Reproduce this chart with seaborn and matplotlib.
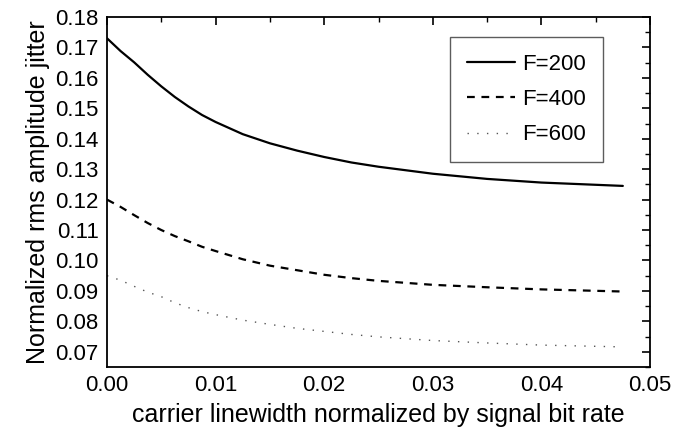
import numpy as np
import pandas as pd
import matplotlib
matplotlib.use("Agg")
import matplotlib.pyplot as plt
from matplotlib.ticker import MultipleLocator, FormatStrFormatter
import seaborn as sns

# Data
x_vals = [0.0, 0.00125, 0.0025, 0.00375, 0.005, 0.00625, 0.0075, 0.00875, 0.01,
          0.0125, 0.015, 0.0175, 0.02, 0.0225, 0.025, 0.03, 0.035, 0.04, 0.0475]
f200 = [0.1730, 0.1688, 0.1651, 0.1610, 0.1572, 0.1537, 0.1506, 0.1478, 0.1455,
        0.1415, 0.1385, 0.1361, 0.1340, 0.1322, 0.1308, 0.1285, 0.1268, 0.1256, 0.1245]
f400 = [0.1200, 0.1176, 0.1149, 0.1123, 0.1100, 0.1080, 0.1063, 0.1045, 0.1031,
        0.1004, 0.0983, 0.0968, 0.0953, 0.0942, 0.0933, 0.0920, 0.0912, 0.0905, 0.0898]
f600 = [0.0950, 0.0935, 0.0915, 0.0896, 0.0881, 0.0861, 0.0845, 0.0832, 0.0822,
        0.0804, 0.0790, 0.0777, 0.0767, 0.0757, 0.0749, 0.0737, 0.0729, 0.0722, 0.0716]
labels = ["F=200", "F=400", "F=600"]
xlabel = "carrier linewidth normalized by signal bit rate"
ylabel = "Normalized rms amplitude jitter"

sns.set_style("white")
plt.rcParams["font.family"] = ["Liberation Sans", "DejaVu Sans"]
plt.rcParams.update({"text.color": "black", "axes.labelcolor": "black",
                     "xtick.color": "black", "ytick.color": "black"})

fig = plt.figure(figsize=(6.86, 4.30), dpi=100)
ax = fig.add_axes([0.156, 0.1465, 0.7915, 0.814])

styles = [dict(color="black", lw=1.6, linestyle="-"),
          dict(color="black", lw=1.6, linestyle=(0, (3.5, 3.0))),
          dict(color="#555555", lw=1.0, linestyle=(0, (1, 6)))]
for ys, lab, st in zip([f200, f400, f600], labels, styles):
    df = pd.DataFrame({"x": x_vals, "y": ys})
    sns.lineplot(data=df, x="x", y="y", ax=ax, label=lab, **st)

ax.set_xlim(0, 0.05)
ax.set_ylim(0.065, 0.18)
ax.xaxis.set_major_locator(MultipleLocator(0.01))
ax.xaxis.set_minor_locator(MultipleLocator(0.005))
ax.yaxis.set_major_locator(MultipleLocator(0.01))
ax.yaxis.set_minor_locator(MultipleLocator(0.005))
ax.xaxis.set_major_formatter(FormatStrFormatter("%.2f"))
ax.yaxis.set_major_formatter(FormatStrFormatter("%.2f"))
ax.tick_params(which="both", direction="in", top=True, right=True, color="black",
               labelcolor="black")
ax.tick_params(which="major", length=6, width=1.2, labelsize=16, pad=6)
ax.tick_params(which="minor", length=3.5, width=1.0)
for sp in ax.spines.values():
    sp.set_color("black")
    sp.set_linewidth(1.3)

ax.set_xlabel(xlabel, fontsize=18, labelpad=5, color="black")
ax.set_ylabel(ylabel, fontsize=18, labelpad=4, color="black")

leg = ax.legend(loc="upper right", bbox_to_anchor=(0.9134, 0.943), fontsize=16,
                frameon=True, fancybox=False, handlelength=2.15, handletextpad=0.35,
                labelspacing=0.65, borderpad=0.75, borderaxespad=0)
leg.get_frame().set_edgecolor("#333333")
leg.get_frame().set_linewidth(1.0)
for t in leg.get_texts():
    t.set_color("black")

fig.savefig("out.png", dpi=100)
